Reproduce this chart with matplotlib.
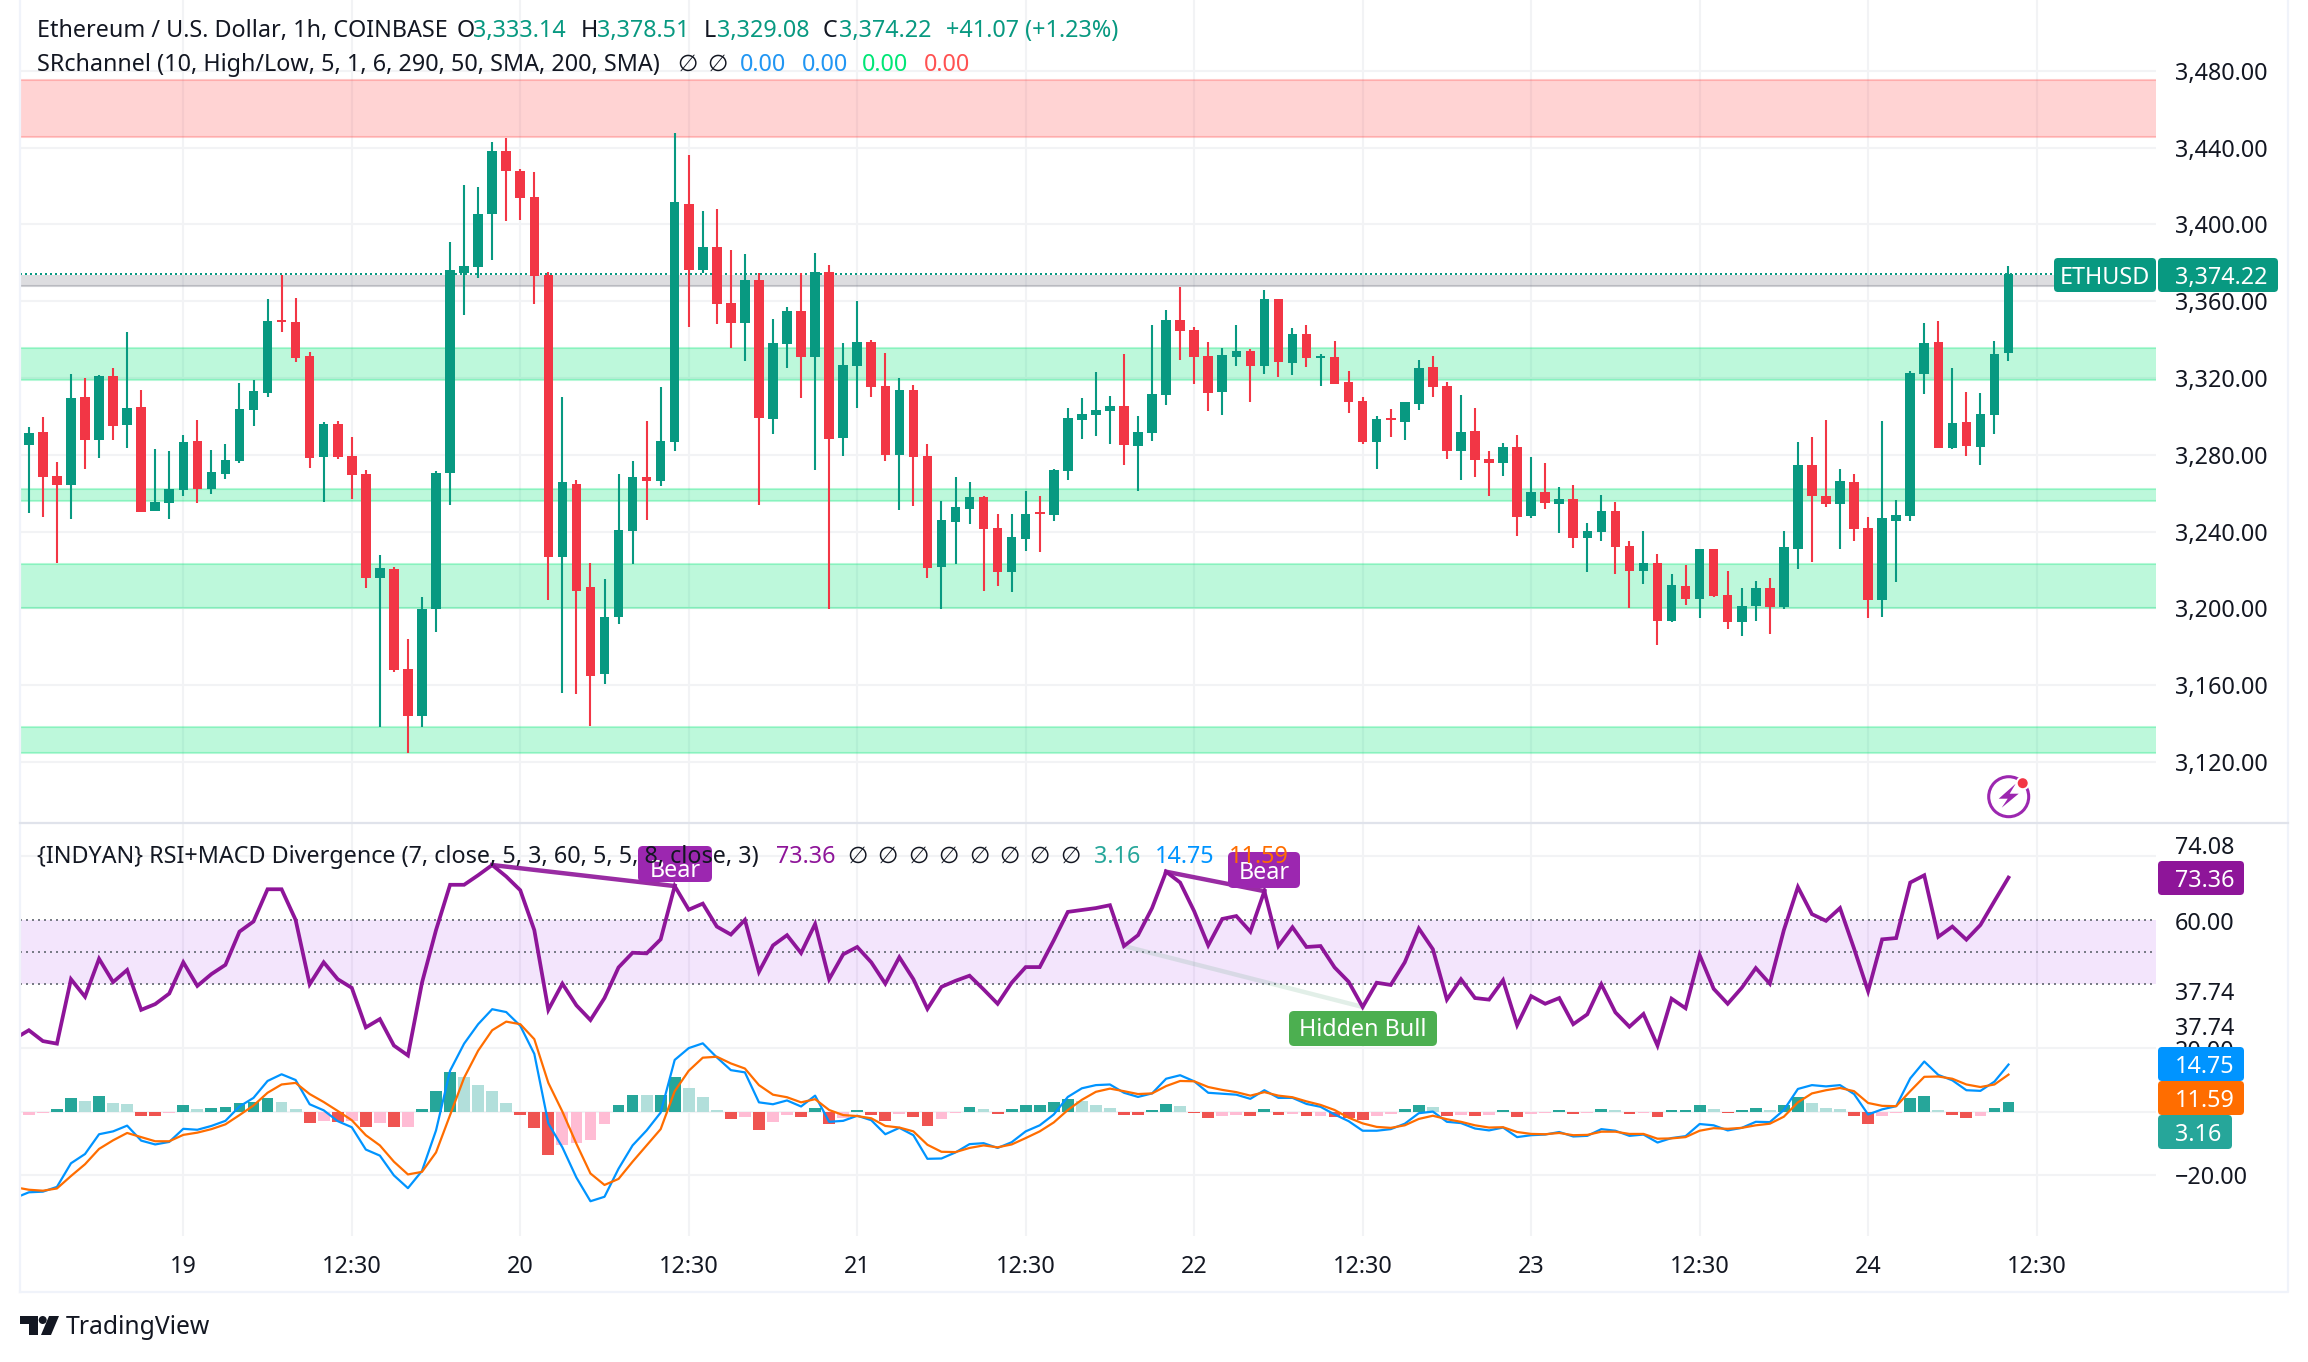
import numpy as np
import matplotlib
matplotlib.use("Agg")
import matplotlib.pyplot as plt
from matplotlib.patches import FancyBboxPatch, Polygon, Circle

plt.rcParams['font.family'] = ['Noto Sans', 'DejaVu Sans']
plt.rcParams['axes.unicode_minus'] = False

W, H = 2308, 1362

# hourly candles, first one is bar 0
opens = [3285.1,3291.7,3268.8,3264.1,3309.9,3287.5,3321.0,3295.3,3304.7,3250.5,3254.7,3261.5,3287.0,3262.0,3269.8,3276.6,3303.2,3312.4,3350.2,3349.2,
         3331.4,3278.7,3295.9,3279.2,3269.8,3215.6,3220.3,3168.2,3143.7,3199.5,3270.3,3374.7,3377.8,3405.4,3438.2,3427.8,3414.3,3373.6,3226.6,3264.6,
         3210.9,3165.6,3195.3,3240.1,3268.2,3266.2,3286.5,3410.6,3376.2,3388.2,3359.0,3348.6,3371.0,3298.7,3337.7,3354.8,3330.8,3375.1,3288.8,3326.2,
         3338.7,3315.8,3279.9,3313.7,3279.3,3221.5,3244.9,3251.8,3257.9,3241.9,3218.8,3236.2,3250.1,3248.6,3271.5,3298.1,3300.7,3302.8,3305.4,3284.5,
         3291.4,3311.1,3350.2,3345.0,3331.4,3312.6,3330.8,3334.0,3326.2,3361.2,3327.7,3343.0,3330.5,3330.8,3317.8,3308.0,3286.6,3299.2,3297.0,3306.5,
         3325.6,3315.8,3281.9,3292.3,3277.8,3275.8,3284.0,3248.1,3260.6,3254.3,3256.9,3236.6,3239.7,3250.7,3232.4,3219.4,3223.6,3193.4,3211.6,3204.8,
         3230.9,3206.9,3192.9,3201.2,3210.6,3200.7,3230.9,3274.6,3258.5,3254.3,3265.8,3241.8,3204.3,3245.5,3248.1,3322.0,3338.7,3283.5,3297.0,3284.0,
         3300.7,3333.14]
highs = [3294.3,3299.5,3276.1,3322.1,3320.0,3321.5,3325.2,3343.9,3313.6,3282.8,3281.8,3290.1,3298.0,3282.3,3285.4,3317.2,3318.9,3361.1,3373.6,3361.6,
         3333.5,3296.9,3297.4,3289.0,3271.9,3227.6,3221.4,3183.8,3205.7,3271.4,3390.8,3420.5,3419.5,3442.9,3445.0,3428.9,3427.3,3375.2,3310.1,3266.7,
         3223.4,3215.1,3269.8,3276.6,3297.4,3315.1,3447.6,3436.2,3407.0,3408.0,3386.7,3384.6,3374.7,3350.8,3356.9,3374.8,3385.2,3378.8,3338.3,3360.0,
         3339.8,3333.1,3320.1,3316.3,3285.6,3255.9,3268.3,3265.7,3258.7,3249.2,3249.2,3261.1,3258.7,3272.6,3304.4,3309.6,3323.0,3310.6,3332.5,3300.1,
         3347.6,3355.4,3367.3,3346.5,3338.7,3335.7,3347.6,3335.1,3365.8,3361.2,3346.1,3347.6,3332.5,3339.2,3323.6,3310.0,3300.1,3303.9,3307.4,3329.4,
         3331.4,3317.8,3311.1,3304.4,3281.9,3286.2,3290.3,3278.8,3275.7,3263.2,3264.2,3244.4,3259.0,3255.4,3235.0,3240.3,3228.3,3217.9,3222.5,3230.9,
         3230.9,3219.4,3210.6,3214.2,3215.8,3240.3,3286.6,3289.2,3298.1,3272.6,3269.9,3247.6,3297.6,3256.4,3323.6,3348.6,3349.7,3325.2,3312.7,3312.2,
         3339.2,3378.51]
lows = [3249.5,3247.4,3223.4,3246.4,3272.4,3278.1,3287.5,3283.4,3250.0,3250.5,3246.4,3258.3,3254.7,3259.4,3267.2,3275.5,3294.8,3309.9,3343.9,3328.3,
        3272.9,3255.2,3277.6,3256.8,3210.4,3138.0,3166.6,3124.5,3138.0,3187.5,3253.7,3352.8,3372.1,3381.4,3401.8,3402.3,3358.5,3204.2,3155.7,3155.2,
        3138.5,3160.4,3191.7,3222.9,3245.8,3263.6,3281.8,3346.5,3374.7,3348.1,3335.6,3328.8,3253.7,3290.8,3325.3,3309.6,3272.1,3199.7,3279.3,3304.4,
        3310.0,3276.7,3251.2,3253.3,3215.9,3199.7,3223.1,3244.0,3209.0,3211.6,3208.4,3229.8,3229.3,3245.5,3266.9,3288.2,3289.7,3285.6,3274.7,3261.1,
        3287.1,3305.9,3329.4,3316.9,3302.8,3300.7,3326.2,3307.4,3322.1,3320.4,3321.5,3325.6,3315.8,3316.9,3301.8,3285.6,3272.6,3289.2,3287.7,3303.3,
        3310.0,3277.8,3266.9,3268.3,3258.5,3268.9,3237.6,3247.0,3251.7,3239.2,3231.4,3218.9,3235.0,3217.9,3200.1,3212.6,3180.9,3192.9,3201.7,3194.9,
        3205.9,3189.2,3185.6,3193.4,3186.6,3199.6,3220.5,3224.1,3252.8,3230.9,3235.0,3194.9,3195.5,3213.7,3245.5,3311.6,3283.5,3283.0,3279.3,3274.6,
        3290.8,3329.08]
closes = [3291.2,3268.2,3264.1,3309.4,3287.5,3321.0,3294.8,3304.2,3250.0,3255.2,3262.0,3286.5,3262.0,3270.8,3277.1,3303.7,3313.0,3349.7,3349.2,3330.4,
          3278.1,3295.9,3278.7,3269.3,3215.6,3220.8,3167.7,3143.7,3199.5,3270.3,3376.2,3378.3,3405.4,3438.2,3427.8,3413.7,3373.1,3226.6,3265.6,3208.9,
          3164.6,3195.3,3240.6,3268.2,3266.2,3287.0,3411.7,3376.2,3388.2,3358.5,3348.6,3371.0,3299.0,3338.3,3354.8,3330.8,3375.1,3288.2,3326.8,3338.7,
          3315.2,3279.9,3313.7,3278.8,3221.1,3246.0,3252.7,3257.9,3241.4,3218.8,3237.1,3249.2,3249.4,3272.1,3299.2,3301.3,3303.3,3305.4,3285.1,3291.8,
          3311.7,3350.2,3344.4,3330.8,3312.2,3332.0,3334.0,3326.2,3361.2,3328.2,3343.0,3330.5,3331.4,3316.9,3307.4,3286.6,3298.7,3298.1,3307.4,3325.3,
          3315.2,3281.9,3291.8,3277.3,3275.8,3284.0,3247.7,3260.6,3255.0,3256.9,3236.6,3240.3,3250.7,3231.9,3219.4,3223.6,3193.4,3212.1,3204.8,3230.9,
          3206.4,3192.9,3201.2,3210.6,3200.7,3231.9,3274.6,3258.5,3254.3,3266.3,3241.3,3204.3,3247.0,3248.6,3322.6,3338.2,3283.5,3296.5,3284.5,3301.2,
          3332.5,3374.22]

# support / resistance zones (low, high)
red_zone = (3445.5, 3475.0)
green_zones = [(3318.9, 3335.4), (3255.9, 3262.0), (3200.3, 3223.3), (3124.8, 3138.4)]
grey_zone = (3367.9, 3373.6)

# indicator pane starts one bar earlier, cut by the left edge
rsi = [22.9,25.5,22.1,21.3,41.5,36.0,47.9,40.6,44.4,31.9,33.7,37.0,46.8,39.4,43.1,46.0,56.4,59.6,69.7,69.7,
       60.1,39.9,46.8,41.5,38.8,26.4,29.0,20.7,17.6,40.4,56.9,71.1,71.1,74.1,77.3,73.7,69.4,56.9,31.9,40.1,
       33.3,28.7,35.6,45.2,49.8,49.6,54.0,70.7,63.3,65.2,58.0,55.5,60.1,43.8,52.1,55.3,49.7,58.8,41.5,49.3,
       51.6,46.8,40.1,48.4,41.5,32.2,39.1,41.0,42.6,38.3,33.8,40.4,45.3,45.3,53.7,62.6,63.2,63.8,64.7,51.9,
       55.3,63.8,75.2,71.8,62.8,52.1,60.4,61.3,56.4,69.1,51.9,57.8,51.6,51.9,45.2,40.7,32.8,40.4,39.7,46.8,
       57.4,50.9,35.1,41.5,35.6,35.1,41.2,27.1,36.2,33.8,35.6,27.4,30.5,39.9,31.1,26.6,30.6,20.7,35.4,32.4,
       49.1,38.5,33.8,38.8,45.0,40.1,56.9,70.4,61.9,59.8,63.8,51.1,37.74,54.0,54.4,71.8,74.08,54.8,58.0,53.9,
       58.5,66.0,73.36]
macd = [-27.1,-25.3,-25.1,-23.6,-16.2,-13.3,-7.1,-6.2,-4.4,-9.1,-10.3,-9.5,-5.4,-5.7,-4.5,-2.9,1.6,4.3,9.6,11.7,
        9.9,2.3,0.4,-3.0,-4.9,-11.9,-13.8,-20.0,-24.0,-18.6,-5.9,12.8,21.3,27.4,32.1,31.2,26.9,18.1,-3.7,-11.2,
        -20.7,-28.1,-26.7,-17.9,-10.6,-5.9,-0.3,16.2,19.9,21.4,17.0,13.0,12.3,2.9,2.3,3.5,1.6,5.0,-3.2,-2.9,
        -1.3,-2.7,-7.1,-5.1,-7.4,-14.8,-14.7,-12.8,-10.2,-9.9,-11.4,-9.6,-6.2,-4.3,-0.9,4.6,7.3,8.3,8.5,5.9,
        4.6,5.7,10.3,11.4,9.5,5.9,5.6,5.3,4.0,6.7,4.3,4.3,2.4,1.5,-0.9,-3.0,-6.0,-6.0,-5.5,-3.8,
        -0.5,0.0,-3.2,-3.6,-5.3,-5.9,-5.0,-8.0,-7.4,-7.2,-6.4,-7.8,-7.6,-5.5,-6.0,-7.6,-7.2,-9.7,-8.3,-7.7,
        -3.9,-4.3,-5.9,-5.1,-3.2,-3.3,0.5,7.1,8.3,7.9,8.3,5.5,-0.9,0.7,1.7,10.4,15.7,11.5,9.8,6.7,
        6.5,9.4,14.75]
signal = [-23.7,-24.5,-24.8,-24.1,-20.2,-16.5,-11.7,-9.0,-6.7,-8.0,-9.3,-9.3,-7.3,-6.6,-5.5,-4.0,-1.1,1.9,5.9,8.5,
          9.0,5.5,3.0,0.2,-2.7,-7.4,-10.6,-15.7,-19.7,-18.9,-12.8,-1.1,10.6,19.1,25.5,28.2,27.4,22.7,9.0,0.0,
          -10.1,-19.4,-23.0,-21.1,-15.7,-10.6,-5.5,6.4,12.8,16.9,17.2,15.1,13.5,8.3,5.3,4.5,2.9,3.9,0.5,-1.1,
          -1.4,-2.1,-4.5,-5.0,-6.2,-10.4,-12.6,-12.7,-11.4,-10.6,-11.2,-10.3,-8.3,-6.2,-3.4,0.5,3.7,6.2,7.2,6.4,
          5.5,5.7,8.0,9.6,9.5,7.7,6.8,6.1,5.0,6.1,5.0,4.5,3.2,2.1,0.5,-1.9,-3.7,-4.8,-5.1,-4.3,
          -2.3,-1.3,-2.4,-3.2,-4.3,-5.0,-4.9,-6.4,-7.0,-7.1,-6.7,-7.4,-7.3,-6.3,-6.3,-7.0,-7.0,-8.5,-8.4,-8.0,
          -6.0,-5.2,-5.4,-5.1,-4.3,-3.8,-1.6,2.9,5.7,6.7,7.4,6.4,2.7,1.8,1.7,6.4,10.9,11.0,10.3,8.5,
          7.7,8.5,11.59]
hist = [-3.4,-1.1,-0.4,0.9,4.3,3.3,4.9,2.7,2.3,-1.4,-1.4,-0.4,2.0,0.9,1.2,1.5,2.7,3.0,4.3,3.0,
        0.9,-3.6,-3.0,-3.4,-3.0,-4.8,-3.6,-4.8,-4.8,0.9,6.5,12.4,10.9,8.3,6.5,2.7,-1.1,-5.1,-13.6,-10.4,
        -9.9,-8.9,-3.9,2.0,5.2,5.2,5.2,10.9,7.4,4.6,0.5,-2.3,-1.7,-5.7,-3.3,-1.1,-1.7,1.2,-3.9,-2.1,
        0.5,-1.1,-3.0,-0.7,-1.7,-4.5,-2.3,-0.4,1.5,0.9,-0.7,0.9,2.0,2.0,3.0,3.9,3.3,2.0,1.2,-1.1,
        -1.1,0.5,2.3,1.7,-0.4,-2.0,-1.4,-1.1,-1.4,0.9,-1.1,-0.7,-1.4,-1.4,-1.7,-2.0,-2.7,-1.4,-0.7,0.9,
        2.0,1.5,-1.4,-1.1,-1.4,-1.1,0.5,-1.7,-0.7,-0.4,0.5,-0.7,-0.4,0.9,0.5,-0.7,-0.4,-1.7,0.5,0.5,
        2.0,0.9,-0.4,0.5,1.2,0.5,2.0,4.6,2.7,1.2,0.9,-1.4,-3.9,-1.4,-0.3,4.3,4.9,0.5,-1.1,-2.0,
        -1.4,1.2,3.16]
# d = rising above zero, l = falling above zero, r = falling below, p = rising below
hist_shade = ("ppp" "ddldllrrpdlddddd" "llrprprprp" "dddllllrrrpppp" "ddlddlllrpr"
              "pprdrpdrrp" "rrppdlrddd" "ddlllrrddl" "rrpprdrprp" "rrrppddlrp"
              "rpdrppdrpd" "lrprdddlrd" "dlddlllrrp" "pddlrrpdd")

bar_x = np.arange(len(opens))
pane_x = np.arange(-1, len(opens))

time_ticks = np.arange(11, 144, 12)
time_labels = ['19', '12:30', '20', '12:30', '21', '12:30', '22', '12:30', '23', '12:30', '24', '12:30']
price_ticks = np.arange(3120, 3481, 40)

GREEN = '#089981'
RED = '#F23645'
PURPLE = '#8E1599'
BLUE = '#0094FF'
ORANGE = '#FF6D00'
TEAL = '#26A69A'
DARK = '#131722'
GRID = '#F2F3F5'
shade_colors = {'d': '#26A69A', 'l': '#B2DFDB', 'r': '#EF5350', 'p': '#FFBCD4'}

FS = 16.8
XL, XR = 20, 2156
x0 = (XL - 183.3) / 14.04 + 11
x1 = (XR - 183.3) / 14.04 + 11


def add_px_axes(left, top, right, bottom):
    return fig.add_axes([left / W, 1 - bottom / H, (right - left) / W, (bottom - top) / H])


fig = plt.figure(figsize=(W / 100, H / 100), dpi=100, facecolor='white')

# main price pane
ax = add_px_axes(XL, 0, XR, 822)
ax.set_xlim(x0, x1)
ax.set_ylim(3088.7, 3516.9)
ax.set_axisbelow(True)
ax.grid(True, color=GRID, lw=1.5)
ax.set_xticks(time_ticks)
ax.tick_params(axis='x', length=0, labelbottom=False)
ax.yaxis.tick_right()
ax.set_yticks(price_ticks)
ax.set_yticklabels([f'{p:,.2f}' for p in price_ticks], fontsize=FS, color=DARK)
ax.tick_params(axis='y', length=0, pad=13.7)
for s in ax.spines.values():
    s.set_visible(False)

ax.axhspan(*red_zone, color='#FF5252', alpha=0.25, lw=0)
for edge in red_zone:
    ax.axhline(edge, color='#FF5252', alpha=0.3, lw=1.5)
for lo, hi in green_zones:
    ax.axhspan(lo, hi, color='#00E676', alpha=0.26, lw=0)
    ax.axhline(lo, color='#00E676', alpha=0.28, lw=1.5)
    ax.axhline(hi, color='#00E676', alpha=0.28, lw=1.5)
ax.axhspan(*grey_zone, color='#787B86', alpha=0.25, lw=0)
ax.axhline(grey_zone[0], color='#787B86', alpha=0.35, lw=1.5)

ax.hlines(closes[-1], x0, x1, color=GREEN, lw=1.44, linestyles=(0, (1, 1.5)), zorder=3)

candle_colors = [GREEN if c >= o else RED for o, c in zip(opens, closes)]
ax.vlines(bar_x, lows, highs, colors=candle_colors, lw=1.5, zorder=4)
ax.bar(bar_x, np.array(closes) - np.array(opens), bottom=opens, width=0.68, color=candle_colors, lw=0, zorder=5)

# indicator pane
ax2 = add_px_axes(XL, 823, XR, 1236)
ax2.set_xlim(x0, x1)
ax2.set_ylim(-39.0, 90.47)
ax2.set_axisbelow(True)
ax2.grid(True, color=GRID, lw=1.5)
ax2.set_yticks([80, 20, 0, -20])
ax2.tick_params(axis='y', length=0, labelleft=False)
ax2.set_xticks(time_ticks)
ax2.set_xticklabels(time_labels, fontsize=FS, color=DARK)
ax2.get_xticklabels()[2].set_fontweight('bold')
ax2.tick_params(axis='x', length=0, pad=14)
for s in ax2.spines.values():
    s.set_visible(False)

ax2.axhspan(40, 60, color='#9105EB', alpha=0.1, lw=0)
for lvl in (40, 50, 60):
    ax2.axhline(lvl, color='#787B86', lw=1.44, linestyle=(0, (1, 2)))

ax2.bar(pane_x, hist, width=0.84, color=[shade_colors[c] for c in hist_shade], lw=0, zorder=2)
ax2.plot(pane_x, macd, color=BLUE, lw=1.6, zorder=3)
ax2.plot(pane_x, signal, color=ORANGE, lw=1.6, zorder=3)

# divergence lines, bar numbers are shifted by one in the pane arrays
ax2.plot([33, 46], [rsi[34], rsi[47]], color=PURPLE, lw=3.2, alpha=0.9, zorder=4)
ax2.plot([81, 88], [rsi[82], rsi[89]], color=PURPLE, lw=3.2, alpha=0.9, zorder=4)
ax2.plot([78, 95], [rsi[79], rsi[96]], color='#4C9F70', lw=3.2, alpha=0.16, zorder=4)
ax2.plot(pane_x, rsi, color=PURPLE, lw=2.7, solid_joinstyle='miter', zorder=5)

# overlay in pixel coords for frame, badges, legend rows and logo
ov = fig.add_axes([0, 0, 1, 1], facecolor='none')
ov.set_xlim(0, W)
ov.set_ylim(H, 0)
ov.axis('off')

FRAME = '#F0F3FA'
ov.plot([20, 20], [0, 1292], color=FRAME, lw=1.6)
ov.plot([20, 2288, 2288], [1292, 1292, 0], color=FRAME, lw=1.6)
ov.plot([20, 2288], [822.7, 822.7], color='#E0E3EB', lw=1.6)


def badge(x0_, y0_, x1_, y1_, color, r=4):
    ov.add_patch(FancyBboxPatch((x0_, y0_), x1_ - x0_, y1_ - y0_, boxstyle=f'round,pad=0,rounding_size={r}',
                                fc=color, ec='none', zorder=3))


def txt(x, y, s, color=DARK, ha='left', size=FS, zorder=6, **kw):
    # +3: va center sits a bit high with this font
    ov.text(x, y + 3, s, color=color, ha=ha, va='center', fontsize=size, zorder=zorder, **kw)


# right scale of lower pane
for yy, s in [(845, '74.08'), (920.5, '60.00'), (991.5, '37.74'), (1026, '37.74'), (1049, '20.00'), (1175, '\u221220.00')]:
    txt(2175, yy, s, zorder=2)

badge(2054, 258, 2156, 292, GREEN)
badge(2158, 258, 2278, 292, GREEN)
txt(2105, 275, 'ETHUSD', color='white', ha='center')
txt(2175, 275, '3,374.22', color='white')

badge(2158, 861, 2244, 895, PURPLE)
txt(2175, 878, '73.36', color='white')
badge(2158, 1047, 2244, 1081, BLUE)
txt(2175, 1064, '14.75', color='white')
badge(2158, 1081, 2244, 1115, ORANGE)
txt(2175, 1098, '11.59', color='white')
badge(2158, 1115, 2232, 1149, TEAL)
txt(2175, 1132, '3.16', color='white')

# signal labels
badge(638, 846, 712, 882, '#9C27B0', r=5)
txt(675, 868, 'Bear', color='white', ha='center', zorder=4)
badge(1228, 852, 1300, 888, '#9C27B0', r=5)
txt(1264, 870, 'Bear', color='white', ha='center', zorder=4)
badge(1289, 1011, 1437, 1046, '#4CAF50', r=5)
txt(1363, 1027, 'Hidden Bull', color='white', ha='center', zorder=4)

# legend rows
txt(37, 28, 'Ethereum / U.S. Dollar, 1h, COINBASE')
for x_l, label, x_v, val in [(457, 'O', 473, '3,333.14'), (581, 'H', 597, '3,378.51'),
                             (704, 'L', 717, '3,329.08'), (823, 'C', 839, '3,374.22')]:
    txt(x_l, 28, label)
    txt(x_v, 28, val, color=GREEN)
txt(946, 28, '+41.07 (+1.23%)', color=GREEN)

txt(37, 62, 'SRchannel (10, High/Low, 5, 1, 6, 290, 50, SMA, 200, SMA)')
for xc in (687, 717):
    txt(xc, 62, '\u2205', ha='center')
for xv, col in [(740, '#2196F3'), (802, '#2196F3'), (862, '#00E676'), (924, '#FF5252')]:
    txt(xv, 62, '0.00', color=col)

txt(37, 854, '{INDYAN} RSI+MACD Divergence (7, close, 5, 3, 60, 5, 5, 8, close, 3)')
txt(776, 854, '73.36', color=PURPLE)
for xc in (857, 887, 918, 948, 979, 1009, 1039, 1070):
    txt(xc, 854, '\u2205', ha='center')
txt(1094, 854, '3.16', color=TEAL)
txt(1155, 854, '14.75', color=BLUE)
txt(1229, 854, '11.59', color=ORANGE)

# lightning icon
cx, cy = 2008.7, 796.7
ov.add_patch(Circle((cx, cy), 20, fc='none', ec='#9C27B0', lw=2.2, zorder=3))
ov.add_patch(Polygon([(cx + 7, cy - 13), (cx - 10, cy + 2), (cx - 1, cy + 2), (cx - 7, cy + 11),
                      (cx + 10, cy - 3), (cx + 1, cy - 3)], fc='#9C27B0', ec='none', zorder=3))
ov.add_patch(Circle((cx + 14, cy - 13.5), 7, fc='white', ec='none', zorder=4))
ov.add_patch(Circle((cx + 14, cy - 13.5), 5, fc=RED, ec='none', zorder=5))

# logo
ov.add_patch(Polygon([(20, 1316), (37.5, 1316), (37.5, 1335), (28.5, 1335), (28.5, 1324), (20, 1324)], fc=DARK, ec='none'))
ov.add_patch(Circle((42.7, 1320), 4, fc=DARK, ec='none'))
ov.add_patch(Polygon([(49, 1316), (59, 1316), (51, 1335), (41, 1335)], fc=DARK, ec='none'))
txt(66, 1324, 'TradingView', size=17.8)

fig.savefig('out.png', dpi=100)
